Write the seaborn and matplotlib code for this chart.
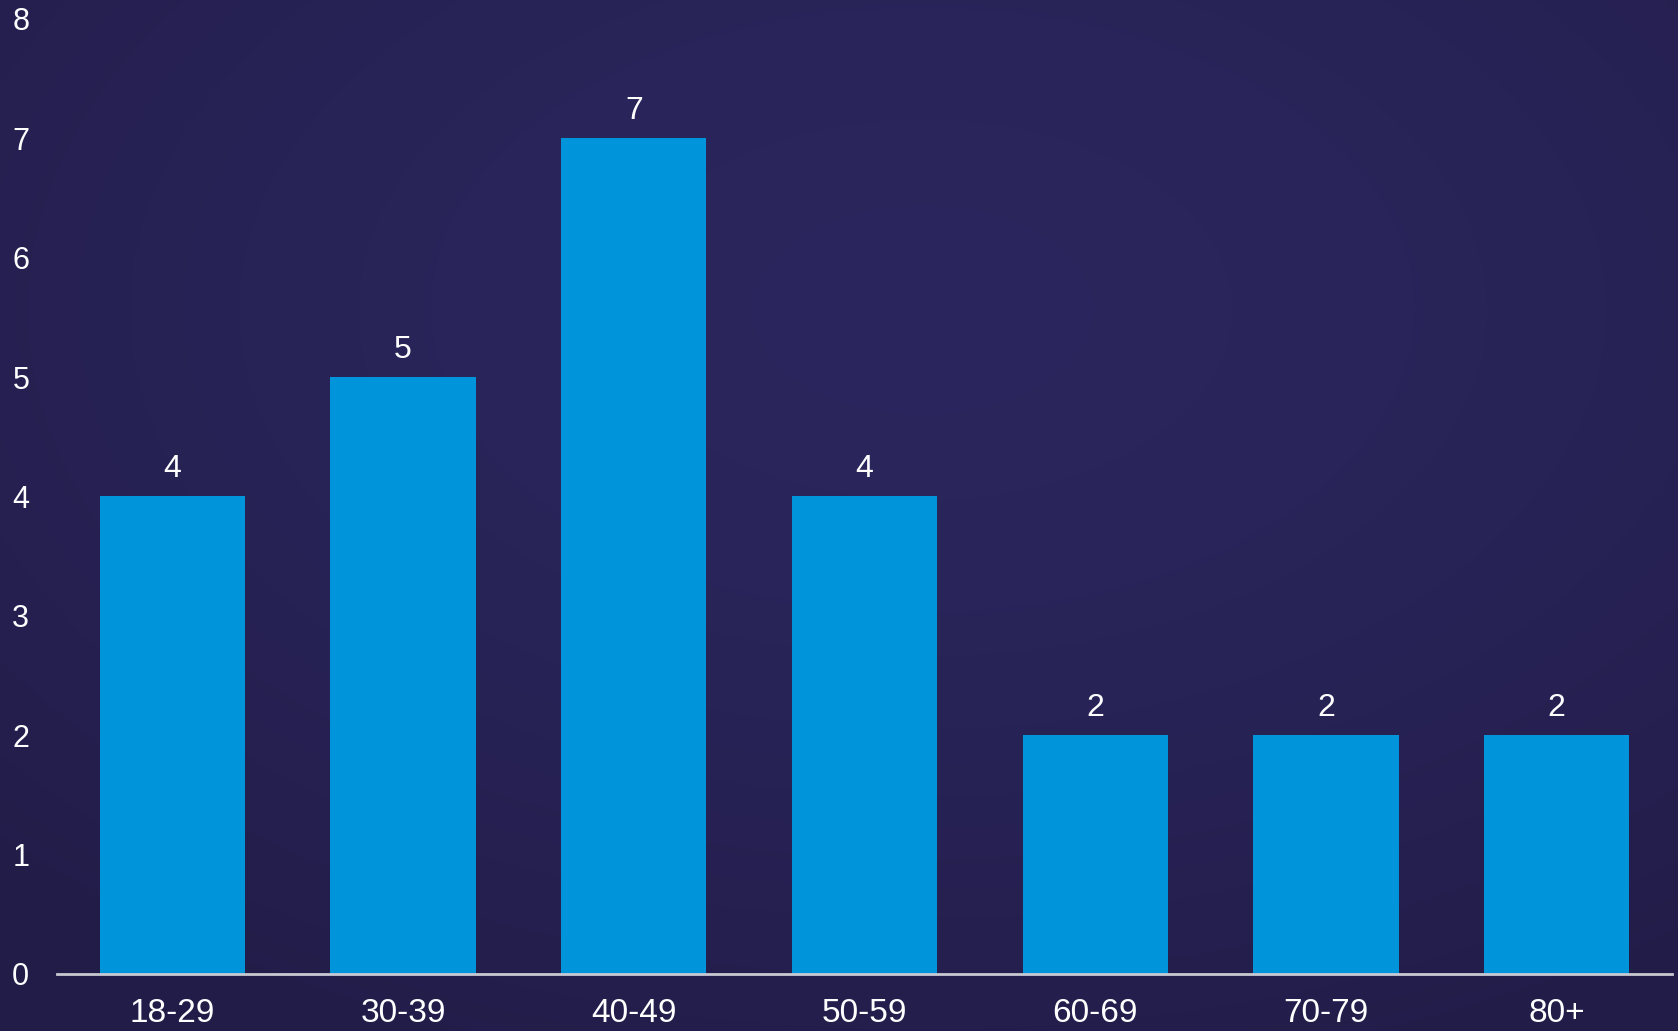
import numpy as np
import pandas as pd
import matplotlib
matplotlib.use("Agg")
import matplotlib.pyplot as plt
import seaborn as sns

# Age groups and counts
age_groups = ["18-29", "30-39", "40-49", "50-59", "60-69", "70-79", "80+"]
counts = [4, 5, 7, 4, 2, 2, 2]
y_ticks = [0, 1, 2, 3, 4, 5, 6, 7, 8]

df = pd.DataFrame({"age": age_groups, "count": counts})

sns.set_theme(style="white")
plt.rcParams["font.family"] = ["Liberation Sans", "DejaVu Sans"]

W, H, DPI = 1678, 1031, 100
fig = plt.figure(figsize=(W / DPI, H / DPI), dpi=DPI)

# Soft radial background gradient
bg = fig.add_axes([0, 0, 1, 1], zorder=0)
yy, xx = np.mgrid[0:1:400j, 0:1:650j]
r = np.sqrt(((xx - 0.55) / 0.8) ** 2 + ((yy - 0.3) / 0.8) ** 2)
r = np.clip(r, 0, 1) ** 1.5
c_in = np.array([43, 39, 94]) / 255
c_out = np.array([34, 28, 72]) / 255
img = c_in[None, None, :] * (1 - r[..., None]) + c_out[None, None, :] * r[..., None]
bg.imshow(img, aspect="auto", extent=[0, 1, 0, 1], origin="upper")
bg.set_axis_off()

ax = fig.add_axes([0.034, 0.0553, 0.9624, 0.9263], zorder=1)
ax.patch.set_alpha(0)

sns.barplot(data=df, x="age", y="count", color="#0095da", saturation=1,
            width=0.63, edgecolor="none", linewidth=0, ax=ax)

ax.set_ylim(0, 8)
ax.set_xlim(-0.5, len(age_groups) - 0.5)
ax.set_yticks(y_ticks)
ax.set_xlabel("")
ax.set_ylabel("")

for s in ["top", "right", "left"]:
    ax.spines[s].set_visible(False)
ax.spines["bottom"].set_color("#c9c9d3")
ax.spines["bottom"].set_linewidth(2)

ax.tick_params(axis="x", colors="white", labelsize=24, length=0, pad=17)
ax.tick_params(axis="y", colors="white", labelsize=22, length=0, pad=20)

for container in ax.containers:
    ax.bar_label(container, labels=[str(v) for v in counts], color="white",
                 fontsize=23, padding=9)

fig.savefig("out.png", dpi=DPI)
